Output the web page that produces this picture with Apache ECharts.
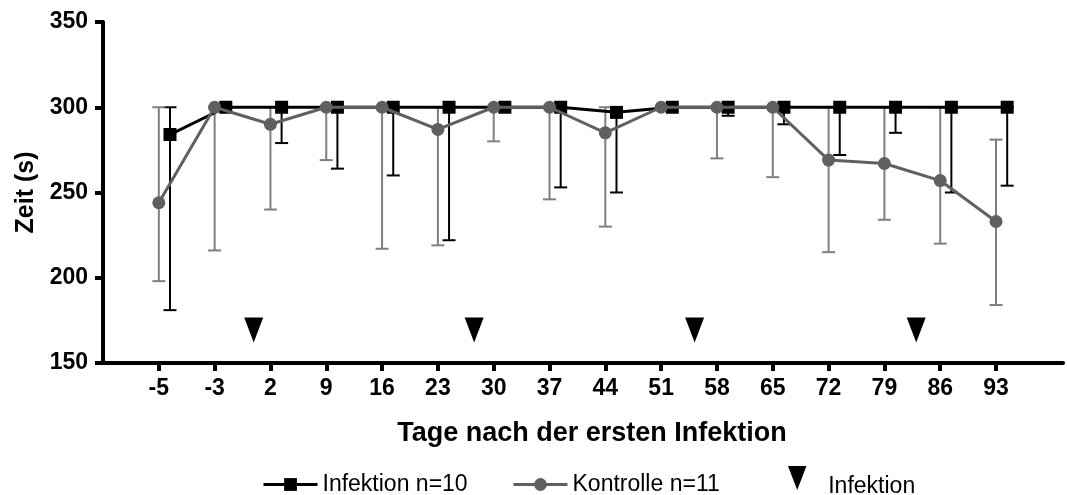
<!DOCTYPE html>
<html>
<head>
<meta charset="utf-8">
<script src="https://cdn.jsdelivr.net/npm/echarts@6/dist/echarts.min.js"></script>
<style>
  html, body { margin: 0; padding: 0; background: #fff; }
  #chart { width: 1067px; height: 495px; }
</style>
</head>
<body>
<div id="chart"></div>
<script>
// Days after the first infection (x-axis categories)
const tage = ['-5', '-3', '2', '9', '16', '23', '30', '37', '44', '51', '58', '65', '72', '79', '86', '93'];

// Infected group (n=10): mean time and error-bar ends
const infektion     = [284, 300, 300, 300, 300, 300, 300, 300, 297, 300, 300, 300, 300, 300, 300, 300];
const infektionLow  = [181, 300, 279, 264, 260, 222, 300, 253, 250, 300, 295, 290, 272, 285, 250, 254];
const infektionHigh = [300, 300, 300, 300, 300, 300, 300, 300, 300, 300, 300, 300, 300, 300, 300, 300];

// Control group (n=11): mean time and error-bar ends
const kontrolle     = [244, 300, 290, 300, 300, 287, 300, 300, 285, 300, 300, 300, 269, 267, 257, 233];
const kontrolleLow  = [198, 216, 240, 269, 217, 219, 280, 246, 230, 300, 270, 259, 215, 234, 220, 184];
const kontrolleHigh = [300, 300, 300, 300, 300, 300, 300, 300, 300, 300, 300, 300, 300, 300, 300, 281];

// Infection time points, on the category-index scale, and marker height
const infektionZeitpunkte = [1.7, 5.65, 9.6, 13.57];
const markerHoehe = 169.4;

const yTicks = [150, 200, 250, 300, 350];

// Infected group is drawn slightly right of each tick so both groups stay readable
const VERSATZ = 0.2;

const FONT = "'Liberation Sans', Arial, Helvetica, sans-serif";
const GRAU = '#606060';
const GRAU_FEHLER = '#7f7f7f';

const idx = tage.map((_, i) => i);

const infPunkte = infektion.map((v, i) => [i + VERSATZ, v]);
const konPunkte = kontrolle.map((v, i) => [i, v]);
const infFehler = infektion.map((_, i) => [i + VERSATZ, infektionLow[i], infektionHigh[i]]);
const konFehler = kontrolle.map((_, i) => [i, kontrolleLow[i], kontrolleHigh[i]]);
const dreiecke = infektionZeitpunkte.map(x => [x, markerHoehe]);

function fehlerbalken(color) {
  return function (params, api) {
    const x = api.value(0), lo = api.value(1), hi = api.value(2);
    if (lo === hi) return null;
    const a = api.coord([x, lo]);
    const b = api.coord([x, hi]);
    const hw = 6.5;
    const style = { stroke: color, lineWidth: 2 };
    return {
      type: 'group',
      children: [
        { type: 'line', shape: { x1: a[0], y1: a[1], x2: b[0], y2: b[1] }, style },
        { type: 'line', shape: { x1: a[0] - hw, y1: a[1], x2: a[0] + hw, y2: a[1] }, style },
        { type: 'line', shape: { x1: b[0] - hw, y1: b[1], x2: b[0] + hw, y2: b[1] }, style }
      ]
    };
  };
}

const DREIECK = 'path://M0,0 L20,0 L10,26 Z';

const legendeText = { fontFamily: FONT, fontSize: 23, color: '#000' };

const chart = echarts.init(document.getElementById('chart'), null, { renderer: 'canvas' });

chart.setOption({
  animation: false,
  backgroundColor: '#ffffff',
  textStyle: { fontFamily: FONT },
  grid: { left: 103, right: 4, top: 22, bottom: 132 },
  xAxis: {
    type: 'value',
    min: -1,
    max: 16.2,
    interval: 1,
    name: 'Tage nach der ersten Infektion',
    nameLocation: 'middle',
    nameGap: 57,
    nameTextStyle: { fontFamily: FONT, fontWeight: 'bold', fontSize: 27, color: '#000', padding: [0, 0, 0, 18] },
    axisLine: { show: true, onZero: false, lineStyle: { color: '#000', width: 4 } },
    axisTick: { show: true, length: 8, lineStyle: { color: '#000', width: 4 }, customValues: idx },
    axisLabel: {
      customValues: idx,
      margin: 14,
      fontFamily: FONT, fontWeight: 'bold', fontSize: 23, color: '#000',
      formatter: v => tage[Math.round(v)]
    },
    splitLine: { show: false }
  },
  yAxis: {
    type: 'value',
    min: 150,
    max: 350,
    interval: 50,
    name: 'Zeit (s)',
    nameLocation: 'middle',
    nameGap: 62,
    nameTextStyle: { fontFamily: FONT, fontWeight: 'bold', fontSize: 25, color: '#000' },
    axisLine: { show: true, onZero: false, lineStyle: { color: '#000', width: 4 } },
    axisTick: { show: true, length: 8, lineStyle: { color: '#000', width: 4 } },
    axisLabel: {
      margin: 15,
      fontFamily: FONT, fontWeight: 'bold', fontSize: 23, color: '#000',
      formatter: v => (yTicks.includes(v) ? String(v) : '')
    },
    splitLine: { show: false }
  },
  legend: [
    {
      data: ['Infektion n=10'], left: 262, top: 473, padding: 0,
      itemWidth: 54, itemHeight: 16,
      lineStyle: { width: 3 },
      textStyle: legendeText
    },
    {
      data: ['Kontrolle n=11'], left: 512, top: 473, padding: 0,
      itemWidth: 54, itemHeight: 16,
      lineStyle: { width: 3 },
      textStyle: legendeText
    },
    {
      data: [{ name: 'Infektion', icon: DREIECK }], left: 788, top: 466, padding: 0,
      itemWidth: 20, itemHeight: 24,
      formatter: '{t|{name}}',
      textStyle: Object.assign({}, legendeText, {
        rich: { t: { fontFamily: FONT, fontSize: 23, color: '#000', padding: [18, 0, 0, 16] } }
      })
    }
  ],
  series: [
    {
      name: 'Fehler Infektion',
      type: 'custom',
      renderItem: fehlerbalken('#000'),
      data: infFehler,
      z: 1,
      silent: true
    },
    {
      name: 'Fehler Kontrolle',
      type: 'custom',
      renderItem: fehlerbalken(GRAU_FEHLER),
      data: konFehler,
      z: 1,
      silent: true
    },
    {
      name: 'Infektion n=10',
      type: 'line',
      data: infPunkte,
      symbol: 'rect',
      symbolSize: 13,
      showAllSymbol: true,
      itemStyle: { color: '#000' },
      lineStyle: { color: '#000', width: 3 },
      z: 3
    },
    {
      name: 'Kontrolle n=11',
      type: 'line',
      data: konPunkte,
      symbol: 'circle',
      symbolSize: 13,
      showAllSymbol: true,
      itemStyle: { color: GRAU },
      lineStyle: { color: GRAU, width: 3 },
      z: 4
    },
    {
      name: 'Infektion',
      type: 'scatter',
      data: dreiecke,
      symbol: DREIECK,
      symbolSize: [19, 25],
      itemStyle: { color: '#000', opacity: 1 },
      z: 5
    }
  ]
});
</script>
</body>
</html>
